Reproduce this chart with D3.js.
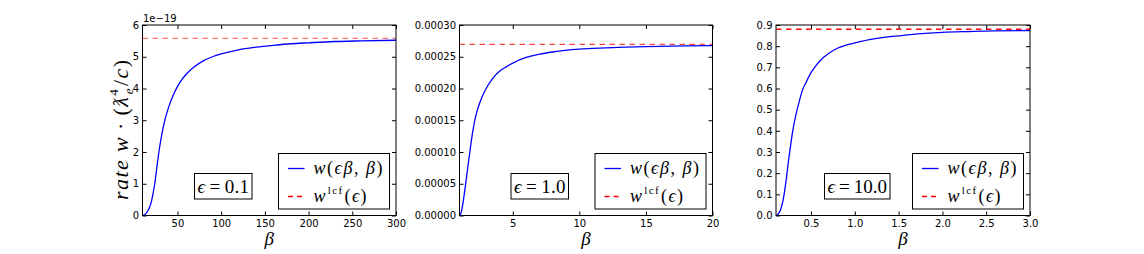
<!DOCTYPE html>
<html><head><meta charset="utf-8">
<script src="https://cdn.jsdelivr.net/npm/d3@7"></script>
<style>
body{margin:0;background:#fff;}
svg{display:block;}
.tick text{font-family:"DejaVu Sans",sans-serif;font-size:10px;fill:#000;}
.math{font-family:"Liberation Serif","DejaVu Serif",serif;}
</style></head>
<body>
<svg id="c" width="1144" height="254"></svg>
<script>
// ---- data ----
const epsilons = ["0.1", "1.0", "10.0"];

const beta1 = [10,12,15,18,20,22,24,26,28,30,33,36,40,45,50,55,60,70,80,90,100,120,140,160,180,200,230,260,300];
const w1_e19 = [0,0.02,0.1,0.25,0.42,0.68,1.0,1.42,1.85,2.22,2.68,3.05,3.42,3.78,4.06,4.28,4.45,4.7,4.88,5.0,5.09,5.22,5.3,5.36,5.41,5.44,5.48,5.5,5.52];
const lcf1_e19 = 5.58;

const beta2 = [1.0,1.1,1.2,1.3,1.4,1.5,1.6,1.7,1.8,2.0,2.2,2.4,2.7,3.0,3.5,4.0,4.5,5.0,6.0,7.0,8.0,10,12,15,18,20];
const w2_e5 = [0,0.3,1.2,2.5,4.0,5.6,7.2,8.8,10.4,13.3,15.5,17.0,18.7,20.0,21.6,22.7,23.4,24.0,24.9,25.4,25.75,26.2,26.4,26.6,26.7,26.75];
const lcf2_e5 = 26.95;

const beta3 = [0.1,0.12,0.15,0.18,0.2,0.22,0.24,0.26,0.28,0.3,0.33,0.36,0.4,0.45,0.5,0.55,0.6,0.7,0.8,0.9,1.0,1.2,1.4,1.6,1.8,2.0,2.3,2.6,3.0];
const w3 = [0,0.005,0.025,0.07,0.12,0.18,0.25,0.31,0.37,0.42,0.48,0.53,0.59,0.635,0.675,0.705,0.73,0.765,0.79,0.805,0.815,0.833,0.845,0.853,0.86,0.865,0.869,0.872,0.874];
const lcf3 = 0.88;

const xTicks1 = [50,100,150,200,250,300];
const xTicks2 = [5,10,15,20];
const xTicks3 = [0.5,1.0,1.5,2.0,2.5,3.0];
const yTicks1 = [0,1,2,3,4,5,6];
const yTicks2 = [0,0.00005,0.0001,0.00015,0.0002,0.00025,0.0003];
const yTicks3 = [0,0.1,0.2,0.3,0.4,0.5,0.6,0.7,0.8,0.9];

// ---- layout ----
const svg = d3.select("#c");
const topY = 25, botY = 215.5;
const panels = [
  {l:142.5, r:396, beta:beta1, w:w1_e19, lcf:lcf1_e19, xd:[10,300], yd:[0,6], xt:xTicks1, yt:yTicks1,
   xf:d3.format("d"), yf:d3.format("d"), eps:epsilons[0], redOp:0.55},
  {l:459.5, r:712.5, beta:beta2, w:w2_e5.map(v=>v*1e-5), lcf:lcf2_e5*1e-5, xd:[1,20], yd:[0,0.0003], xt:xTicks2, yt:yTicks2,
   xf:d3.format("d"), yf:d3.format(".5f"), eps:epsilons[1], redOp:0.75},
  {l:776, r:1030, beta:beta3, w:w3, lcf:lcf3, xd:[0.1,3.0], yd:[0,0.9], xt:xTicks3, yt:yTicks3,
   xf:d3.format(".1f"), yf:d3.format(".1f"), eps:epsilons[2], redOp:0.95}
];

panels.forEach((p,i)=>{
  const x = d3.scaleLinear().domain(p.xd).range([p.l,p.r]);
  const y = d3.scaleLinear().domain(p.yd).range([botY,topY]);
  const g = svg.append("g");

  // curves
  g.append("path").datum(p.beta.map((b,k)=>[b,p.w[k]]))
    .attr("fill","none").attr("stroke","#0000ff").attr("stroke-width",1.3)
    .attr("d", d3.line().x(d=>x(d[0])).y(d=>y(d[1])).curve(d3.curveMonotoneX));
  g.append("line").attr("x1",x(p.xd[0])).attr("x2",x(p.xd[1]))
    .attr("y1",y(p.lcf)).attr("y2",y(p.lcf))
    .attr("stroke","#ff0000").attr("stroke-opacity",p.redOp).attr("stroke-width",1.3).attr("stroke-dasharray","5.5,4.5");

  // axes (inward ticks on all sides)
  const ax = g.append("g").attr("transform",`translate(0,${botY})`)
    .call(d3.axisBottom(x).tickValues(p.xt).tickFormat(p.xf).tickSizeInner(-4).tickSizeOuter(0).tickPadding(4));
  const axT = g.append("g").attr("transform",`translate(0,${topY})`)
    .call(d3.axisTop(x).tickValues(p.xt).tickFormat("").tickSizeInner(-4).tickSizeOuter(0));
  const ay = g.append("g").attr("transform",`translate(${p.l},0)`)
    .call(d3.axisLeft(y).tickValues(p.yt).tickFormat(p.yf).tickSizeInner(-4).tickSizeOuter(0).tickPadding(3.5));
  const ayR = g.append("g").attr("transform",`translate(${p.r},0)`)
    .call(d3.axisRight(y).tickValues(p.yt).tickFormat("").tickSizeInner(-4).tickSizeOuter(0));
  [ax,axT,ay,ayR].forEach(a=>{a.select(".domain").remove(); a.selectAll(".tick line").attr("stroke","#000");});

  // frame
  g.append("rect").attr("x",p.l).attr("y",topY).attr("width",p.r-p.l).attr("height",botY-topY)
    .attr("fill","none").attr("stroke","#000").attr("stroke-width",1);

  // x label
  g.append("text").attr("class","math").attr("x",(p.l+p.r)/2).attr("y",245)
    .attr("text-anchor","middle").attr("font-style","italic").attr("font-size",19).text("β");

  // legend
  const lx = p.r - 117.5, ly = 153.5;
  g.append("rect").attr("x",lx).attr("y",ly).attr("width",111).attr("height",55.5)
    .attr("fill","#fff").attr("stroke","#000").attr("stroke-width",1);
  g.append("line").attr("x1",lx+9.5).attr("x2",lx+26).attr("y1",ly+15).attr("y2",ly+15)
    .attr("stroke","#0000ff").attr("stroke-width",1.3);
  g.append("line").attr("x1",lx+9.5).attr("x2",lx+26).attr("y1",ly+43).attr("y2",ly+43)
    .attr("stroke","#ff0000").attr("stroke-width",1.3).attr("stroke-dasharray","5,4");
  const t1 = g.append("text").attr("class","math").attr("x",lx+35).attr("y",ly+20).attr("font-size",18)
    .attr("textLength",69).attr("lengthAdjust","spacing");
  t1.append("tspan").attr("font-style","italic").text("w");
  t1.append("tspan").text("(");
  t1.append("tspan").attr("font-style","italic").text("ϵβ");
  t1.append("tspan").text(", ");
  t1.append("tspan").attr("font-style","italic").text("β");
  t1.append("tspan").text(")");
  const t2 = g.append("text").attr("class","math").attr("x",lx+35).attr("y",ly+48).attr("font-size",18)
    .attr("textLength",53).attr("lengthAdjust","spacing");
  t2.append("tspan").attr("font-style","italic").text("w");
  t2.append("tspan").attr("font-size",11).attr("dy",-8).attr("dx",1).text("lcf");
  t2.append("tspan").attr("dy",8).attr("dx",1).text("(");
  t2.append("tspan").attr("font-style","italic").text("ϵ");
  t2.append("tspan").text(")");

  // epsilon box
  const ex = p.l + (i===1?51.5:(i===0?52:48.5));
  const ew = i===2?65.5:57.5;
  g.append("rect").attr("x",ex).attr("y",173.5).attr("width",ew).attr("height",25.5)
    .attr("fill","#fff").attr("stroke","#000").attr("stroke-width",1);
  const te = g.append("text").attr("class","math").attr("x",ex+3).attr("y",192.5)
    .attr("font-size",19).attr("textLength",ew-6).attr("lengthAdjust","spacing");
  te.append("tspan").attr("font-style","italic").text("ϵ");
  te.append("tspan").text("\u2009=\u2009" + p.eps);
});

// offset text on first panel
svg.append("text").attr("x",143).attr("y",22).attr("font-family","DejaVu Sans, sans-serif")
  .attr("font-size",10).text("1e−19");

// y label
const yl = svg.append("text").attr("class","math").attr("font-size",22)
  .attr("transform","translate(128,130) rotate(-90)").attr("text-anchor","middle")
  .attr("textLength",140).attr("lengthAdjust","spacing");
yl.append("tspan").attr("font-style","italic").text("rate w");
yl.append("tspan").text("\u2009·\u2009(");
yl.append("tspan").attr("font-style","italic").text("ƛ");
yl.append("tspan").attr("font-size",13).attr("dy",-10).text("4");
yl.append("tspan").attr("font-size",13).attr("font-style","italic").attr("dx",-6.5).attr("dy",15).text("e");
yl.append("tspan").attr("dy",-5).attr("dx",1).text("/");
yl.append("tspan").attr("font-style","italic").text("c");
yl.append("tspan").text(")");
</script>
</body></html>
